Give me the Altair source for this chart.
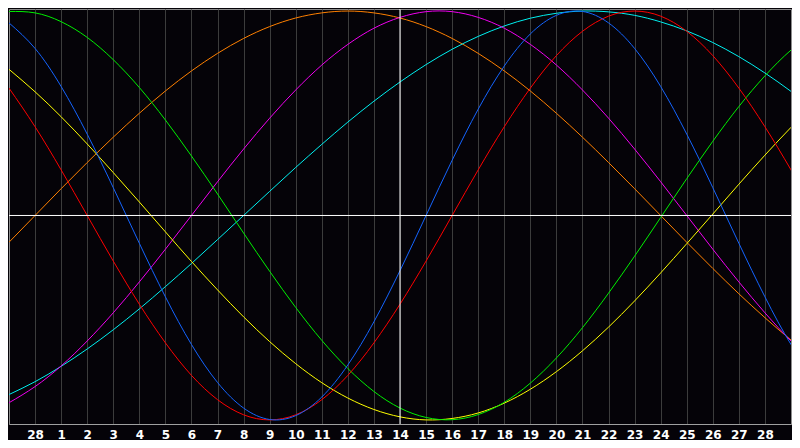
import pandas as pd
import altair as alt

# day index -1 .. 30 (index 0 is the "28" of the previous month)
days = list(range(-1, 31))
tick_days = list(range(0, 29))
day_labels = ['28'] + [str(d) for d in range(1, 29)]
today = 14

# cycle values at each day line
physical = [0.942, 0.817, 0.631, 0.398, 0.136, -0.136, -0.398, -0.631, -0.817, -0.942,
            -0.998, -0.979, -0.888, -0.731, -0.520, -0.270, 0.0, 0.270, 0.520, 0.731,
            0.888, 0.979, 0.998, 0.942, 0.817, 0.631, 0.398, 0.136, -0.136, -0.398,
            -0.631, -0.817]
emotional = [0.623, 0.434, 0.223, 0.0, -0.223, -0.434, -0.623, -0.782, -0.901, -0.975,
             -1.0, -0.975, -0.901, -0.782, -0.623, -0.434, -0.223, 0.0, 0.223, 0.434,
             0.623, 0.782, 0.901, 0.975, 1.0, 0.975, 0.901, 0.782, 0.623, 0.434,
             0.223, 0.0]
intellectual = [0.998, 0.991, 0.948, 0.871, 0.762, 0.626, 0.467, 0.291, 0.105, -0.086,
                -0.273, -0.450, -0.611, -0.749, -0.861, -0.942, -0.988, -0.999, -0.974, -0.914,
                -0.820, -0.697, -0.549, -0.380, -0.199, -0.010, 0.180, 0.363, 0.533, 0.683,
                0.809, 0.906]
intuitive = [-0.916, -0.837, -0.736, -0.614, -0.476, -0.325, -0.165, 0.0, 0.165, 0.325,
             0.476, 0.614, 0.736, 0.837, 0.916, 0.969, 0.997, 0.997, 0.969, 0.916,
             0.837, 0.736, 0.614, 0.476, 0.325, 0.165, 0.0, -0.165, -0.325, -0.476,
             -0.614, -0.736]
aesthetic = [0.715, 0.605, 0.483, 0.350, 0.210, 0.066, -0.080, -0.225, -0.364, -0.496,
             -0.617, -0.725, -0.818, -0.893, -0.949, -0.985, -1.0, -0.993, -0.966, -0.918,
             -0.850, -0.764, -0.662, -0.546, -0.418, -0.281, -0.138, 0.007, 0.153, 0.295,
             0.431, 0.558]
awareness = [-0.131, 0.0, 0.131, 0.259, 0.383, 0.5, 0.609, 0.707, 0.793, 0.866,
             0.924, 0.966, 0.991, 1.0, 0.991, 0.966, 0.924, 0.866, 0.793, 0.707,
             0.609, 0.5, 0.383, 0.259, 0.131, 0.0, -0.131, -0.259, -0.383, -0.5,
             -0.609, -0.707]
spiritual = [-0.876, -0.813, -0.738, -0.653, -0.559, -0.457, -0.348, -0.235, -0.118, 0.0,
             0.118, 0.235, 0.348, 0.457, 0.559, 0.653, 0.738, 0.813, 0.876, 0.927,
             0.965, 0.989, 1.0, 0.996, 0.979, 0.947, 0.903, 0.846, 0.777, 0.697,
             0.607, 0.509]

cycles = ['awareness', 'spiritual', 'intuitive', 'aesthetic', 'intellectual', 'emotional', 'physical']
colors = ['#ff8000', '#00f0f0', '#f000f0', '#ffff00', '#00f000', '#ff0000', '#1464ff']
series = {'physical': physical, 'emotional': emotional, 'intellectual': intellectual,
          'intuitive': intuitive, 'aesthetic': aesthetic, 'awareness': awareness,
          'spiritual': spiritual}

rows = []
for name in cycles:
    for d, v in zip(days, series[name]):
        rows.append({'day': d, 'value': v, 'cycle': name})
source = pd.DataFrame(rows)

x_scale = alt.Scale(domain=[-1.0, 29.0], nice=False, zero=False)
y_scale = alt.Scale(domain=[-1.02, 1.01], nice=False, zero=False)

# tick labels: day 0 is the last day of the previous month
label_expr = "datum.value == 0 ? '%s' : '' + datum.value" % day_labels[0]

x_axis = alt.Axis(values=tick_days, labelExpr=label_expr, title=None, grid=True,
                  gridColor='#3c3c3c', ticks=False, domainColor='#a0a0a0',
                  labelColor='white', labelFont='DejaVu Sans', labelFontWeight='bold',
                  labelFontSize=12, labelPadding=5)

lines = alt.Chart(source).mark_line(strokeWidth=1, interpolate='natural', clip=True).encode(
    x=alt.X('day:Q', scale=x_scale, axis=x_axis),
    y=alt.Y('value:Q', scale=y_scale, axis=None),
    color=alt.Color('cycle:N', scale=alt.Scale(domain=cycles, range=colors), legend=None),
)

today_rule = alt.Chart(pd.DataFrame({'day': [today]})).mark_rule(color='white', strokeWidth=1).encode(
    x=alt.X('day:Q', scale=x_scale, axis=x_axis)
)
zero_rule = alt.Chart(pd.DataFrame({'value': [0.0]})).mark_rule(color='white', strokeWidth=1).encode(
    y=alt.Y('value:Q', scale=y_scale, axis=None)
)

chart = alt.layer(lines, today_rule, zero_rule).properties(
    width=784,
    height=432,
    autosize=alt.AutoSizeParams(type='fit', contains='padding'),
    background='#050308',
    padding=0,
).configure_view(
    stroke='#8c8c8c',
    strokeWidth=1,
)

chart.save("out.html", embed_options={"renderer": "svg", "actions": False})
